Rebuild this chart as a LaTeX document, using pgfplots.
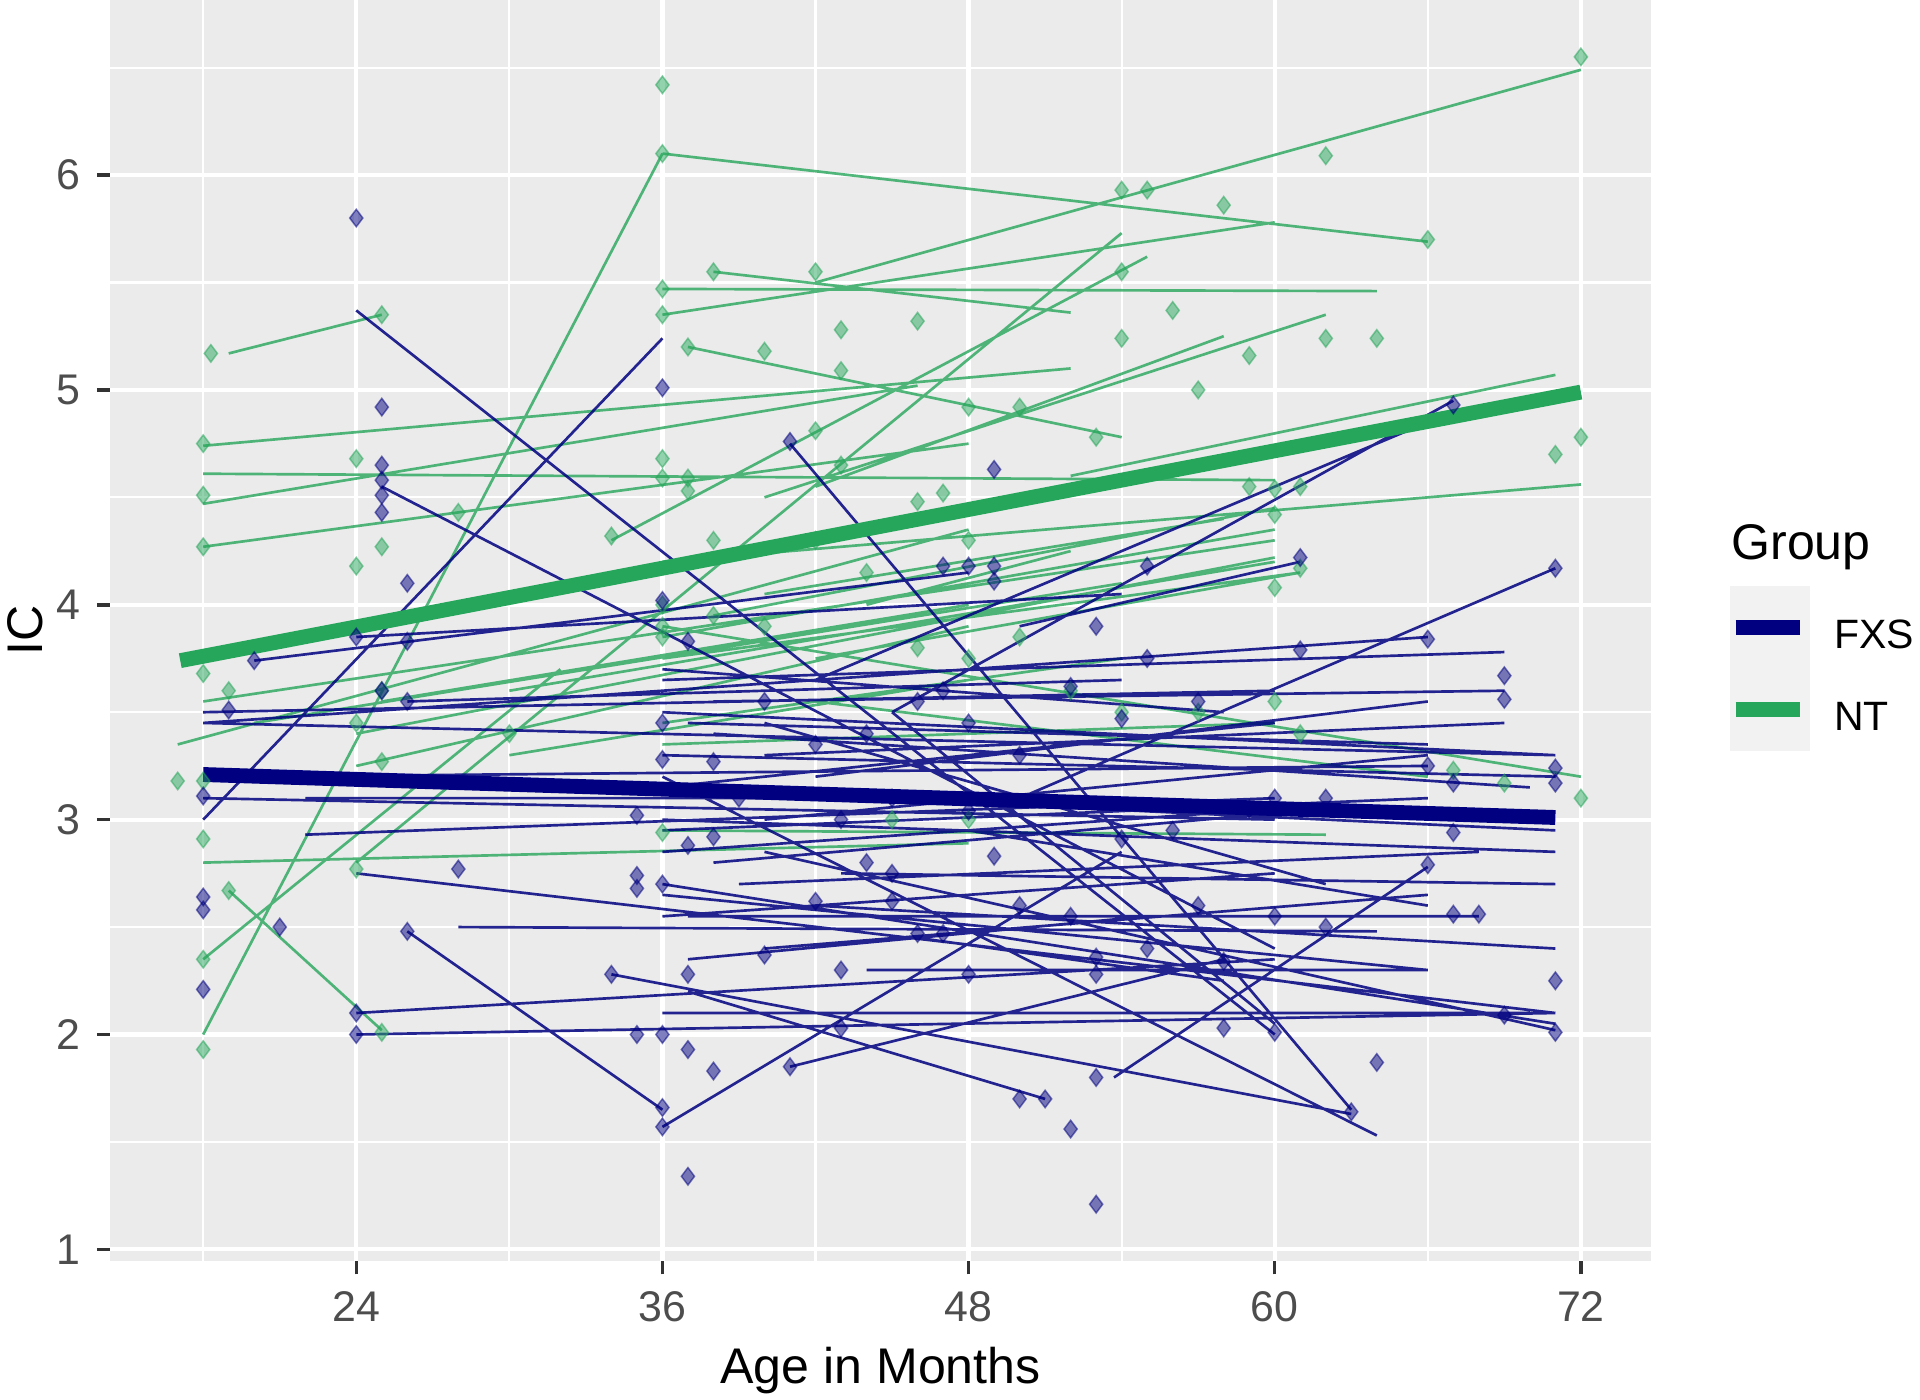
\documentclass[border=0pt]{standalone}
\usepackage{pgfplots}
\pgfplotsset{compat=1.18}
\usepackage{fontspec}
\setmainfont{Liberation Sans}
\definecolor{fxs}{RGB}{0,0,128}
\definecolor{nt}{RGB}{38,166,91}
\definecolor{gray92}{RGB}{235,235,235}
\definecolor{gray95}{RGB}{242,242,242}
\definecolor{gray30}{RGB}{77,77,77}
\definecolor{gray20}{RGB}{51,51,51}
\begin{document}
\begin{tikzpicture}
\begin{axis}[
  scale only axis, width=404.5bp, height=331bp,
  at={(0,0)}, anchor=south west,
  xmin=14.35, xmax=74.75, ymin=0.946, ymax=6.815,
  xtick={24,36,48,60,72}, ytick={1,2,3,4,5,6},
  minor xtick={18,30,42,54,66}, minor ytick={1.5,2.5,3.5,4.5,5.5,6.5},
  grid=both,
  major grid style={white, line width=1.1bp},
  minor grid style={white, line width=0.55bp},
  axis background/.style={fill=gray92},
  axis line style={draw=none},
  tick pos=left, tick align=outside,
  major tick length=3.5bp, minor tick length=0pt,
  tick style={gray20, line width=0.9bp},
  /pgf/number format/assume math mode=true,
  ticklabel style={font=\fontsize{11.3}{13}\selectfont, text=gray30, inner sep=0pt},
  xticklabel style={anchor=north, yshift=-4.3bp},
  yticklabel style={anchor=east, xshift=-4.0bp},
  unbounded coords=jump,
  clip=false,
]
% NT individual lines
\addplot[nt, opacity=0.8, line width=0.7bp] coordinates {
(36,6.10) (66,5.69) (nan,nan)
(42,5.50) (72,6.49) (nan,nan)
(36,5.47) (64,5.46) (nan,nan)
(36,5.35) (60,5.78) (nan,nan)
(38,5.55) (52,5.36) (nan,nan)
(37,5.20) (54,4.78) (nan,nan)
(19,5.17) (25,5.35) (nan,nan)
(18,4.74) (52,5.10) (nan,nan)
(18,4.61) (60,4.58) (nan,nan)
(18,4.47) (46,5.02) (nan,nan)
(18,4.27) (48,4.75) (nan,nan)
(18,2.00) (36,6.10) (nan,nan)
(24,2.80) (54,5.73) (nan,nan)
(34,4.30) (55,5.62) (nan,nan)
(40,4.50) (62,5.35) (nan,nan)
(42,4.55) (58,5.25) (nan,nan)
(52,4.60) (71,5.07) (nan,nan)
(36,4.20) (72,4.56) (nan,nan)
(17,3.35) (48,4.35) (nan,nan)
(18,3.55) (60,4.30) (nan,nan)
(20,3.45) (54,4.10) (nan,nan)
(24,3.40) (60,4.22) (nan,nan)
(24,3.25) (48,3.90) (nan,nan)
(25,3.55) (48,4.00) (nan,nan)
(30,3.60) (60,4.20) (nan,nan)
(36,3.75) (61,4.15) (nan,nan)
(36,3.90) (72,3.20) (nan,nan)
(42,3.55) (66,3.20) (nan,nan)
(18,2.80) (48,2.89) (nan,nan)
(36,2.95) (62,2.93) (nan,nan)
(19,2.67) (25,2.02) (nan,nan)
(18,2.35) (32,3.70) (nan,nan)
(36,3.85) (60,4.35) (nan,nan)
(38,3.95) (60,4.45) (nan,nan)
(40,4.05) (58,4.40) (nan,nan)
(36,3.45) (54,3.75) (nan,nan)
(42,3.75) (61,4.15) (nan,nan)
(44,4.00) (52,4.25) (nan,nan)
(30,3.30) (48,3.65) (nan,nan)
(36,3.35) (60,3.45) (nan,nan)
};
% FXS individual lines
\addplot[fxs, opacity=0.85, line width=0.7bp] coordinates {
(24,5.37) (60,2.00) (nan,nan)
(18,3.00) (36,5.24) (nan,nan)
(25,4.55) (60,2.40) (nan,nan)
(41,4.75) (63,1.65) (nan,nan)
(20,3.74) (48,4.15) (nan,nan)
(24,3.85) (54,4.05) (nan,nan)
(18,3.45) (71,3.30) (nan,nan)
(18,3.50) (60,3.60) (nan,nan)
(20,3.20) (66,3.25) (nan,nan)
(22,2.93) (60,3.10) (nan,nan)
(24,2.75) (71,2.10) (nan,nan)
(24,2.10) (60,2.35) (nan,nan)
(24,2.00) (71,2.10) (nan,nan)
(26,2.48) (36,1.65) (nan,nan)
(36,1.57) (54,2.85) (nan,nan)
(53.7,1.80) (66,2.78) (nan,nan)
(36,3.20) (64,1.53) (nan,nan)
(36,2.70) (71,2.05) (nan,nan)
(36,2.65) (66,2.30) (nan,nan)
(36,3.00) (71,2.85) (nan,nan)
(34,2.28) (63,1.63) (nan,nan)
(37,2.20) (51,1.70) (nan,nan)
(41,1.85) (58,2.35) (nan,nan)
(48,2.10) (70,2.10) (nan,nan)
(50,3.90) (61,4.20) (nan,nan)
(50,3.10) (71,4.17) (nan,nan)
(42,3.65) (66,4.85) (nan,nan)
(45,3.50) (67,4.95) (nan,nan)
(36,3.60) (66,3.85) (nan,nan)
(36,3.65) (69,3.78) (nan,nan)
(38,3.55) (69,3.60) (nan,nan)
(36,3.50) (71,3.30) (nan,nan)
(36,3.30) (71,3.20) (nan,nan)
(40,3.00) (66,3.30) (nan,nan)
(45,3.50) (60,2.05) (nan,nan)
(28,2.50) (64,2.48) (nan,nan)
(37,2.55) (68,2.55) (nan,nan)
(40,2.40) (66,2.65) (nan,nan)
(44,2.30) (60,2.30) (nan,nan)
(36,2.10) (50,2.10) (nan,nan)
(46,2.45) (58,2.25) (nan,nan)
(40,2.85) (71,2.02) (nan,nan)
(18,3.10) (60,3.00) (nan,nan)
(22,3.10) (48,3.10) (nan,nan)
(18,3.45) (36,3.60) (nan,nan)
(26,3.55) (54,3.65) (nan,nan)
(36,2.85) (60,3.05) (nan,nan)
(54,2.30) (66,2.30) (nan,nan)
(37,3.45) (66,3.35) (nan,nan)
(38,3.40) (70,3.15) (nan,nan)
(36,3.15) (60,3.45) (nan,nan)
(40,3.30) (69,3.45) (nan,nan)
(42,3.20) (66,3.55) (nan,nan)
(36,2.95) (66,3.10) (nan,nan)
(38,2.80) (62,3.05) (nan,nan)
(39,2.70) (68,2.85) (nan,nan)
(36,2.55) (60,2.75) (nan,nan)
(42,2.60) (71,2.40) (nan,nan)
(36,3.70) (58,3.50) (nan,nan)
(44,3.10) (71,2.95) (nan,nan)
(48,2.95) (66,2.60) (nan,nan)
(40,3.45) (62,2.70) (nan,nan)
(37,2.35) (55,2.55) (nan,nan)
(43,2.75) (71,2.70) (nan,nan)
};
% NT points
\addplot[only marks, mark=diamond*, mark size=2.3bp, nt, opacity=0.5] coordinates {
(36,6.42)(36,6.10)(72,6.55)(62,6.09)(54,5.93)(55,5.93)(58,5.86)(66,5.70)(54,5.55)(38,5.55)(42,5.55)(36,5.47)(36,5.35)(25,5.35)(18.3,5.17)(37,5.20)(40,5.18)(43,5.28)(43,5.09)(46,5.32)(54,5.24)(56,5.37)(62,5.24)(64,5.24)(59,5.16)(57,5.00)(48,4.92)(50,4.92)(53,4.78)(42,4.81)(36,4.68)(36,4.59)(37,4.53)(37,4.59)(18,4.75)(18,4.51)(18,4.27)(24,4.68)(28,4.43)(25,4.27)(24,4.18)(34,4.32)(43,4.65)(46,4.48)(47,4.52)(71,4.70)(72,4.78)(60,4.54)(59,4.55)(61,4.55)(60,4.42)(60,4.08)(61,4.17)(18,3.68)(19,3.60)(17,3.18)(18,3.18)(18,2.91)(19,2.67)(18,2.35)(18,1.93)(25,2.01)(25,3.27)(24,2.77)(36,2.94)(72,3.10)(69,3.17)(67,3.23)
(36,4.0)(38,3.95)(40,3.9)(42,4.3)(44,4.15)(46,3.8)(48,4.3)(48,3.75)(50,3.85)(52,3.6)(54,3.5)(57,3.5)(60,3.55)(61,3.4)(38,4.3)(30,3.4)(36,3.9)(45,3.0)(48,3.0)(36,3.85)(24,3.45)(25,3.6)
};
% FXS points
\addplot[only marks, mark=diamond*, mark size=2.3bp, fxs, opacity=0.5] coordinates {
(24,5.80)(25,4.92)(25,4.65)(25,4.58)(25,4.51)(25,4.43)(26,4.10)(36,5.01)(41,4.76)(49,4.63)(36,4.02)(37,3.83)(26,3.83)(24,3.85)(20,3.74)(19,3.51)(25,3.60)(26,3.55)(18,3.11)(18,2.64)(18,2.58)(18,2.21)(21,2.50)(24,2.10)(24,2.00)(28,2.77)(26,2.48)(36,1.66)(36,1.57)(37,1.34)(35,2.00)(36,2.00)(37,1.93)(38,1.83)(37,2.28)(34,2.28)(35,2.74)(35,2.68)(36,2.70)(37,2.88)(38,2.92)(35,3.02)(36,3.45)(36,3.28)(38,3.27)(40,2.37)(41,1.85)(43,2.03)(43,2.30)(46,2.47)(47,2.47)(48,2.28)(49,2.83)(48,3.04)(50,1.70)(51,1.70)(52,1.56)(53,1.21)(53,1.80)(53,2.28)(53,2.36)(54,2.91)(54,3.47)(53,3.90)(55,4.18)(47,4.18)(48,4.18)(49,4.18)(49,4.11)(61,4.22)(61,3.79)(58,2.03)(60,2.01)(58,2.34)(63,1.64)(64,1.87)(66,2.79)(67,2.56)(68,2.56)(66,3.84)(69,3.67)(69,3.56)(66,3.25)(67,3.17)(67,2.94)(71,4.17)(71,3.24)(71,3.17)(71,2.25)(71,2.01)(69,2.09)(67,4.93)
(40,3.55)(42,3.35)(44,3.4)(45,3.1)(46,3.55)(47,3.6)(48,3.45)(50,3.3)(52,3.62)(55,3.75)(57,3.55)(59,3.05)(60,3.1)(62,3.1)(56,2.95)(44,2.8)(45,2.75)(50,2.6)(52,2.55)(55,2.4)(42,2.62)(39,3.1)(43,3.0)(57,2.6)(62,2.5)(45,2.62)(60,2.55)
};
% group trend lines
\addplot[fxs, line width=3.9bp] coordinates {(18,3.21) (71,3.01)};
\addplot[nt, line width=3.9bp] coordinates {(17.1,3.74) (72,4.99)};
\end{axis}
% axis titles
\node[anchor=base, inner sep=0pt, font=\fontsize{13.2}{15}\selectfont] at (202.25bp,-32.2bp) {Age in Months};
\node[rotate=90, anchor=base, inner sep=0pt, font=\fontsize{13.2}{15}\selectfont] at (-17.8bp,165.5bp) {IC};
% legend
\fill[gray95] (425.1bp,133.8bp) rectangle (446.3bp,177.2bp);
\draw[fxs, line width=3.9bp] (426.7bp,166.2bp) -- (443.7bp,166.2bp);
\draw[nt, line width=3.9bp] (426.7bp,144.7bp) -- (443.7bp,144.7bp);
\node[anchor=base west, inner sep=0pt, font=\fontsize{13.2}{15}\selectfont] at (425.4bp,184.2bp) {Group};
\node[anchor=base west, inner sep=0pt, font=\fontsize{10.8}{12}\selectfont] at (452.4bp,160.8bp) {FXS};
\node[anchor=base west, inner sep=0pt, font=\fontsize{10.8}{12}\selectfont] at (452.4bp,139.2bp) {NT};
\pgfresetboundingbox
\path[use as bounding box] (-28.9bp,-36.5bp) rectangle (475.1bp,331bp);
\end{tikzpicture}
\end{document}
